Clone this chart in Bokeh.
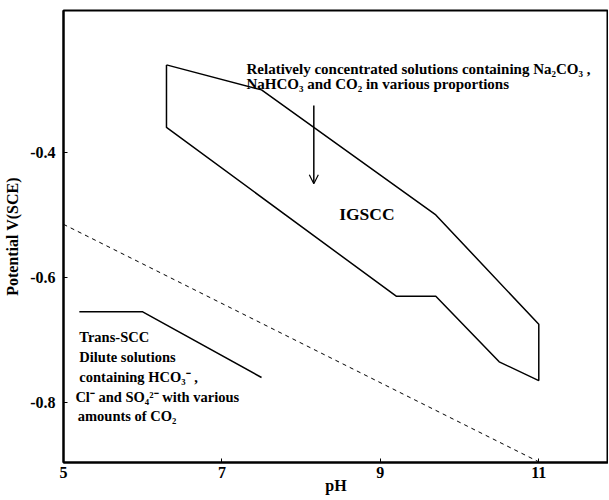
from bokeh.plotting import figure
from bokeh.models import Range1d, Arrow, OpenHead, FixedTicker, PrintfTickFormatter
from bokeh.core.properties import value
from bokeh.embed import file_html
from bokeh.resources import INLINE

# IGSCC region boundary (pH, potential V vs SCE)
igscc_ph = [6.3, 7.5, 9.7, 11.0, 11.0, 10.5, 9.7, 9.2, 6.3, 6.3]
igscc_v = [-0.26, -0.30, -0.50, -0.675, -0.765, -0.735, -0.63, -0.63, -0.36, -0.26]

# Trans-SCC boundary
trans_ph = [5.2, 6.0, 7.5]
trans_v = [-0.655, -0.655, -0.76]

# dashed reference line
dash_ph = [5.0, 11.0]
dash_v = [-0.515, -0.895]

# arrow
arrow_ph = 8.16
arrow_v = [-0.325, -0.45]

x_ticks = [5, 7, 9, 11]
y_ticks = [-0.4, -0.6, -0.8]

top_text = ["Relatively concentrated solutions containing Na\u2082CO\u2083 ,",
            "NaHCO\u2083 and  CO\u2082 in various proportions"]
top_text_ph = [7.31, 7.31]
top_text_v = [-0.267, -0.29]

igscc_label = ["IGSCC"]
igscc_label_ph = [8.48]
igscc_label_v = [-0.498]

trans_text = ["Trans-SCC", "Dilute solutions", "containing HCO\u2083\u207b ,",
              "Cl\u207b and SO\u2084\u00b2\u207b with various", "amounts of  CO\u2082"]
trans_text_ph = [5.2, 5.2, 5.2, 5.15, 5.18]
trans_text_v = [-0.695, -0.728, -0.76, -0.792, -0.822]

SERIF = "Liberation Serif"

p = figure(width=608, height=496, output_backend="svg", toolbar_location=None,
           x_range=Range1d(5, 11.88), y_range=Range1d(-0.896, -0.173),
           min_border_left=63, min_border_right=0, min_border_top=10, min_border_bottom=30)
p.xgrid.visible = False
p.ygrid.visible = False
p.outline_line_color = "black"
p.outline_line_width = 2
p.background_fill_color = "white"

for ax in (p.xaxis[0], p.yaxis[0]):
    ax.axis_line_width = 2
    ax.axis_line_color = "black"
    ax.major_tick_in = 4
    ax.major_tick_out = 0
    ax.major_tick_line_color = "black"
    ax.minor_tick_line_color = None
    ax.major_label_text_font = SERIF
    ax.major_label_text_font_style = "bold"
    ax.major_label_text_font_size = "16px"
    ax.major_label_text_color = "black"
    ax.axis_label_text_font = SERIF
    ax.axis_label_text_font_style = "bold"
    ax.axis_label_text_font_size = "16px"
    ax.axis_label_text_color = "black"

p.xaxis.ticker = FixedTicker(ticks=x_ticks)
p.yaxis.ticker = FixedTicker(ticks=y_ticks)
p.xaxis.formatter = PrintfTickFormatter(format="%d")
p.yaxis.formatter = PrintfTickFormatter(format="%.1f")
p.xaxis.axis_label = "pH"
p.yaxis.axis_label = "Potential V(SCE)"
p.xaxis.major_label_standoff = 4
p.yaxis.major_label_standoff = 8
p.xaxis.axis_label_standoff = -4
p.yaxis.axis_label_standoff = 6

p.line(igscc_ph, igscc_v, line_color="black", line_width=1.5)
p.line(trans_ph, trans_v, line_color="black", line_width=1.5)
p.line(dash_ph, dash_v, line_color="black", line_width=1, line_dash="4 4")

p.add_layout(Arrow(end=OpenHead(size=9, line_width=1.2, line_color="black"),
                   x_start=arrow_ph, y_start=arrow_v[0], x_end=arrow_ph, y_end=arrow_v[1],
                   line_width=1.5, line_color="black"))

p.text(top_text_ph, top_text_v, text=top_text, text_font=value(SERIF),
       text_font_style="bold", text_font_size="15px", text_baseline="middle", text_color="black")
p.text(igscc_label_ph, igscc_label_v, text=igscc_label, text_font=value(SERIF),
       text_font_style="bold", text_font_size="17.5px", text_baseline="middle", text_color="black")
p.text(trans_text_ph, trans_text_v, text=trans_text, text_font=value(SERIF),
       text_font_style="bold", text_font_size="14.5px", text_baseline="middle", text_color="black")

open("out.html", "w").write(file_html(p, INLINE))
